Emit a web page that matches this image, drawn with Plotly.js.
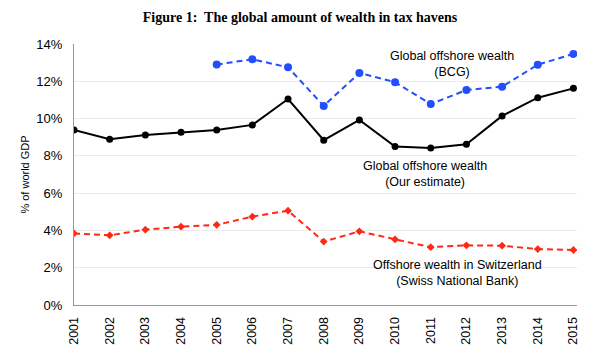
<!DOCTYPE html>
<html>
<head>
<meta charset="utf-8">
<script src="https://cdn.plot.ly/plotly-3.0.1.min.js"></script>
<style>html,body{margin:0;padding:0;background:#fff;}#chart{width:600px;height:353px;}</style>
</head>
<body>
<div id="chart"></div>
<script>
const years = [2001,2002,2003,2004,2005,2006,2007,2008,2009,2010,2011,2012,2013,2014,2015];
const ourEstimate = [9.39,8.89,9.12,9.26,9.39,9.66,11.05,8.84,9.93,8.5,8.42,8.62,10.14,11.12,11.62];
const bcgYears = [2005,2006,2007,2008,2009,2010,2011,2012,2013,2014,2015];
const bcg = [12.9,13.18,12.75,10.68,12.45,11.95,10.78,11.53,11.71,12.89,13.47];
const swiss = [3.84,3.74,4.04,4.2,4.3,4.74,5.06,3.4,3.95,3.52,3.1,3.2,3.18,3.0,2.95];
const yTicks = [0,2,4,6,8,10,12,14];
const yTickText = ['0%','2%','4%','6%','8%','10%','12%','14%'];

const traces = [
  {x: years, y: ourEstimate, mode:'lines+markers', line:{color:'#000', width:2}, marker:{color:'#000', size:7}},
  {x: bcgYears, y: bcg, mode:'lines+markers', line:{color:'rgb(34,78,255)', width:2, dash:'6px,4px'}, marker:{color:'rgb(34,78,255)', size:8}},
  {x: years, y: swiss, mode:'lines+markers', line:{color:'rgb(255,40,20)', width:2, dash:'6px,4px'}, marker:{color:'rgb(255,40,20)', size:6, symbol:'diamond'}}
];

const annFont = {family:'Liberation Sans, Arial, sans-serif', size:12.5, color:'#000'};
const layout = {
  width:600, height:353,
  margin:{l:74, r:23, t:44, b:48},
  paper_bgcolor:'#fff', plot_bgcolor:'#fff',
  showlegend:false,
  title:{text:'<b>Figure 1:  The global amount of wealth in tax havens</b>', font:{family:'Liberation Serif, Times New Roman, serif', size:14, color:'#000'}, x:0.5, xanchor:'center', y:0.952, yanchor:'middle'},
  xaxis:{range:[2001,2015.1], tickmode:'array', tickvals:years, ticktext:years.map(String), tickangle:-90,
    showgrid:false, showline:true, linecolor:'#999', linewidth:1, zeroline:false, ticks:'', ticklabelstandoff:6,
    tickfont:{family:'Liberation Sans, Arial, sans-serif', size:12.5, color:'#000'}},
  yaxis:{range:[0,14], tickmode:'array', tickvals:yTicks, ticktext:yTickText,
    showgrid:true, gridcolor:'#ebebeb', gridwidth:1, showline:true, linecolor:'#999', linewidth:1, zeroline:false, ticks:'', ticklabelstandoff:8,
    tickfont:{family:'Liberation Sans, Arial, sans-serif', size:13, color:'#000'},
    title:{text:'% of world GDP', font:{family:'Liberation Sans, Arial, sans-serif', size:11, color:'#000'}, standoff:4}},
  annotations:[
    {x:2011.6, y:12.93, xref:'x', yref:'y', text:'Global offshore wealth<br>(BCG)', showarrow:false, font:annFont, align:'center'},
    {x:2010.85, y:7.05, xref:'x', yref:'y', text:'Global offshore wealth<br>(Our estimate)', showarrow:false, font:annFont, align:'center'},
    {x:2011.75, y:1.74, xref:'x', yref:'y', text:'Offshore wealth in Switzerland<br>(Swiss National Bank)', showarrow:false, font:annFont, align:'center'}
  ]
};
Plotly.newPlot('chart', traces, layout, {displayModeBar:false, staticPlot:true});
</script>
</body>
</html>
